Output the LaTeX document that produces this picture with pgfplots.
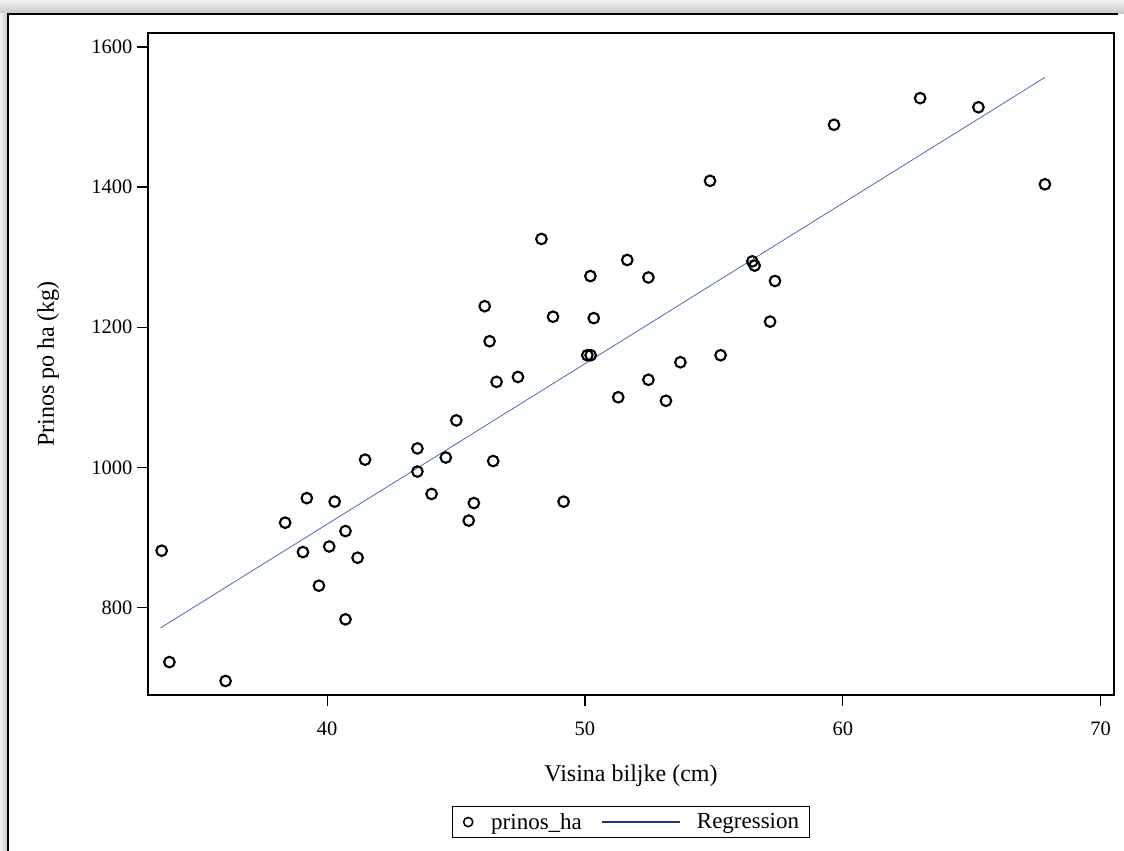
\documentclass[border=0pt]{standalone}
\usepackage{fontspec}
\setmainfont{Liberation Serif}
\usepackage{pgfplots}
\pgfplotsset{compat=1.18}
\definecolor{regblue}{RGB}{75,110,175}
\definecolor{legblue}{RGB}{30,55,115}
\pgfplotstableread{
x y
33.58 881
33.88 722
36.06 695
38.37 921
39.21 956
39.06 879
39.68 831
40.08 887
40.29 951
40.71 909
40.71 783
41.18 871
41.47 1011
43.50 1027
43.50 994
44.05 962
44.60 1014
45.01 1067
45.49 924
45.69 949
46.44 1009
46.57 1122
47.40 1129
46.30 1180
46.11 1230
48.31 1326
48.76 1215
49.17 951
50.09 1160
50.22 1160
50.21 1273
50.34 1213
51.29 1100
51.64 1296
52.46 1271
52.46 1125
53.14 1095
53.70 1150
54.85 1409
55.26 1160
56.49 1294
56.58 1288
57.18 1208
57.37 1266
59.66 1489
63.00 1527
65.26 1514
67.84 1404
}\pts
\begin{document}
\begin{tikzpicture}
\useasboundingbox (0pt,0pt) rectangle (1124pt,-851pt);
\shade[top color=gray!10, bottom color=gray!45] (0pt,0pt) rectangle (1124pt,-14pt);
\shade[left color=gray!10, right color=gray!45] (0pt,-14pt) rectangle (8pt,-851pt);
\fill[white] (8pt,-14pt) rectangle (1124pt,-851pt);
\draw[black, line width=1.2pt] (8pt,-851pt) -- (8pt,-14pt) -- (1118pt,-14pt);
\begin{axis}[
  at={(148pt,-695pt)}, anchor=south west,
  scale only axis, width=966pt, height=662pt,
  xmin=33.05, xmax=70.52, ymin=675, ymax=1620,
  xtick={40,50,60,70}, ytick={800,1000,1200,1400,1600},
  tick align=outside, tick pos=left,
  major tick length=11pt,
  axis line style={line width=1.3pt},
  every tick/.style={black, line width=1.3pt},
  /pgf/number format/assume math mode=true,
  /pgf/number format/set thousands separator={},
  tick label style={font=\fontsize{20.5}{24}\selectfont},
  xticklabel style={yshift=-12pt},
  yticklabel style={xshift=-1pt},
  label style={font=\fontsize{24}{28}\selectfont},
  xlabel={Visina biljke (cm)},
  ylabel={Prinos po ha (kg)},
  xlabel style={at={(axis description cs:0.5,-0.1314)}, anchor=base},
  ylabel style={at={(axis description cs:-0.1035,0.5)}, anchor=center},
  legend style={at={(0.5,-0.168)}, anchor=north, legend columns=2,
    draw=black, line width=1.2pt, font=\fontsize{23}{26}\selectfont,
    inner xsep=10.5pt, inner ysep=6.5pt,
    nodes={inner sep=0pt}},
  legend cell align=left,
]
\addplot[only marks, mark=o, mark size=5.3pt, black,
  mark options={line width=2.1pt, draw=black},
  legend image code/.code={%
    \path[draw=none, fill=none] (-5.3pt,0pt) -- (23pt,0pt);
    \draw[black, line width=1.5pt] (0pt,0pt) circle (4.6pt);}]
  table[x=x,y=y]{\pts};
\addlegendentry{prinos\_ha}
\addplot[regblue, line width=0.8pt, no marks,
  legend image code/.code={%
    \path[draw=none, fill=none] (-20pt,0pt) -- (95pt,0pt);
    \draw[legblue, line width=1.3pt] (0pt,0pt) -- (78pt,0pt);}]
  coordinates {(33.54,770.9) (67.84,1556.6)};
\addlegendentry{Regression}
\end{axis}
\end{tikzpicture}
\end{document}
